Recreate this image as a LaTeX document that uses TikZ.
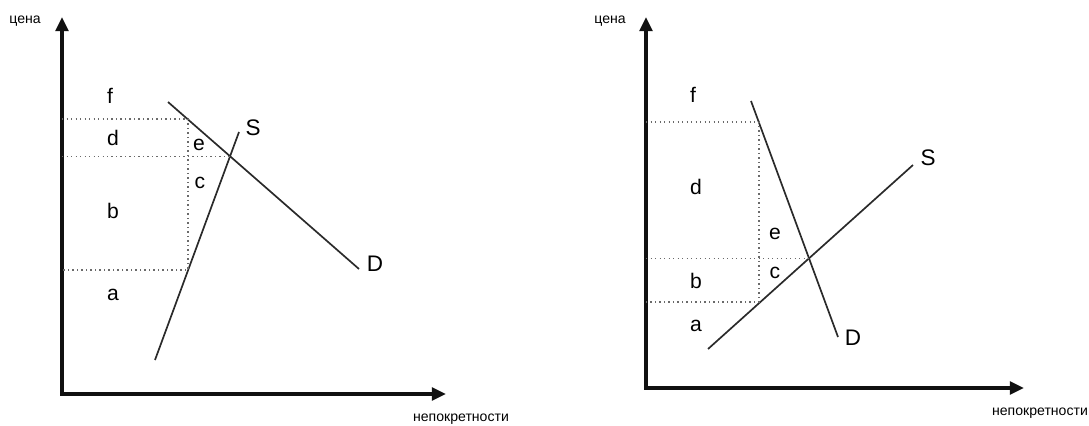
\documentclass[tikz,border=0pt]{standalone}
\usepackage{fontspec}
\setmainfont{Liberation Sans}
\usepackage{tikz}
\usetikzlibrary{arrows.meta}
\definecolor{axisstroke}{HTML}{111111}
\definecolor{curvestroke}{HTML}{2a2a2a}
\definecolor{guidestroke}{HTML}{6a6a6a}
\tikzset{
  axis/.style={draw=axisstroke, line width=2.4pt,
               {Triangle[length=10pt,width=9pt]}-{Triangle[length=10pt,width=9pt]}},
  curve/.style={draw=curvestroke, line width=1.2pt},
  guide/.style={draw=guidestroke, line width=0.8pt,
                dash pattern=on 0.8pt off 2.4pt},
  area/.style={font=\fontsize{15}{15}\selectfont, inner sep=0pt},
  curvelabel/.style={font=\fontsize{16}{16}\selectfont, inner sep=0pt},
  axislabel/.style={font=\fontsize{10}{10}\selectfont, inner sep=0pt}
}

\begin{document}
\begin{tikzpicture}[x=0.025cm, y=-0.025cm]
  \useasboundingbox (0,0) rectangle (1089,426);

  % ===== Left panel: steep supply =====

  % axes
  \coordinate (L-o)    at (62,394);
  \coordinate (L-ytip) at (62,17);
  \coordinate (L-xtip) at (446,394);
  \draw[axis] (L-ytip) |- (L-xtip);
  \node[axislabel] (L-price) at (25,21)  {цена};
  \node[axislabel] (L-qty)   at (461,419) {непокретности};

  % demand and supply
  \coordinate (L-d1) at (168,102);
  \coordinate (L-d2) at (359,269);
  \coordinate (L-s1) at (155,360);
  \coordinate (L-s2) at (239,132);
  \draw[curve] (L-d1) -- (L-d2);
  \draw[curve] (L-s1) -- (L-s2);
  \node[curvelabel] (L-S) at (253,128) {S};
  \node[curvelabel] (L-D) at (375,264) {D};

  % dotted guides
  \coordinate (L-eq) at (intersection of L-d1--L-d2 and L-s1--L-s2);
  \coordinate (L-q1) at (188,119);
  \coordinate (L-q2) at (188,270);
  \draw[guide] (L-q1 -| L-o) -- (L-q1) -- (L-q2) -- (L-q2 -| L-o);
  \draw[guide] (L-eq -| L-o) -- (L-eq);

  % areas
  \node[area] (L-f) at (110,96)  {f};
  \node[area] (L-d) at (113,138) {d};
  \node[area] (L-e) at (199,145) {e};
  \node[area] (L-c) at (200,183) {c};
  \node[area] (L-b) at (113,211) {b};
  \node[area] (L-a) at (113,295) {a};

  % ===== Right panel: flat supply =====

  % axes
  \coordinate (R-o)    at (646,388);
  \coordinate (R-ytip) at (646,17);
  \coordinate (R-xtip) at (1024,388);
  \draw[axis] (R-ytip) |- (R-xtip);
  \node[axislabel] (R-price) at (610,21)  {цена};
  \node[axislabel] (R-qty)   at (1040,413) {непокретности};

  % demand and supply
  \coordinate (R-d1) at (751,101);
  \coordinate (R-d2) at (838,337);
  \coordinate (R-s1) at (708,349);
  \coordinate (R-s2) at (913,165);
  \draw[curve] (R-d1) -- (R-d2);
  \draw[curve] (R-s1) -- (R-s2);
  \node[curvelabel] (R-S) at (928,158) {S};
  \node[curvelabel] (R-D) at (853,338) {D};

  % dotted guides
  \coordinate (R-eq) at (intersection of R-d1--R-d2 and R-s1--R-s2);
  \coordinate (R-q1) at (759,122);
  \coordinate (R-q2) at (759,302);
  \draw[guide] (R-q1 -| R-o) -- (R-q1) -- (R-q2) -- (R-q2 -| R-o);
  \draw[guide] (R-eq -| R-o) -- (R-eq);

  % areas
  \node[area] (R-f) at (693,95)  {f};
  \node[area] (R-d) at (696,187) {d};
  \node[area] (R-e) at (775,234) {e};
  \node[area] (R-c) at (775,273) {c};
  \node[area] (R-b) at (696,281) {b};
  \node[area] (R-a) at (696,326) {a};

\end{tikzpicture}
\end{document}
